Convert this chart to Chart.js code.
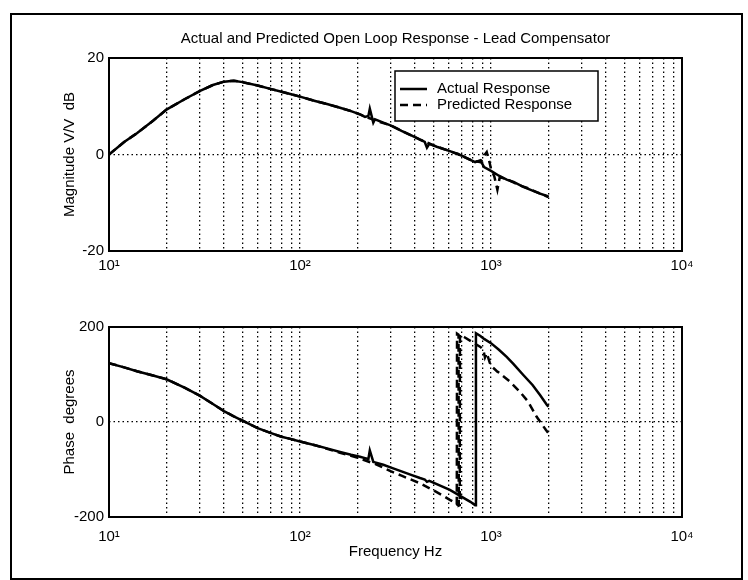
<!DOCTYPE html>
<html>
<head>
<meta charset="utf-8">
<script src="https://cdn.jsdelivr.net/npm/chart.js@4.4.1/dist/chart.umd.min.js"></script>
<style>
  body { margin: 0; background: #fff; }
  #frame { position: absolute; left: 10px; top: 13px; width: 729px; height: 563px; border: 2px solid #000; }
  canvas { position: absolute; left: 0; }
</style>
</head>
<body>
<div id="frame"></div>
<canvas id="magChart" width="748" height="290" style="top:0"></canvas>
<canvas id="phaseChart" width="748" height="290" style="top:290px"></canvas>
<script>
// measured response
const freqActual = [10, 12, 14, 17, 20, 25, 30, 35, 40, 45, 50, 60, 70, 80, 90, 100, 120, 140, 162, 185,
  206, 219, 228, 232, 242, 247, 273, 300, 340, 385, 425, 450, 462, 475, 520, 609, 700, 780, 826, 834,
  880, 920, 1000, 1100, 1208, 1313, 1476, 1650, 1806, 1963, 2000];
const magActual = [0, 2.6, 4.4, 7.0, 9.3, 11.5, 13.2, 14.4, 15.1, 15.3, 15.0, 14.3, 13.6, 13.0, 12.5, 12.0, 11.1, 10.4, 9.7, 9.0,
  8.3, 7.8, 8.0, 9.5, 6.6, 7.3, 6.6, 6.0, 4.9, 3.9, 3.1, 2.6, 1.4, 2.2, 1.6, 0.7, -0.2, -1.1, -1.6, -1.6,
  -1.2, -2.6, -3.4, -4.4, -5.2, -5.7, -6.7, -7.5, -8.1, -8.6, -8.8];
const phaseActual = [124, 115, 107, 98, 90, 72, 55, 38, 23, 12, 3, -13, -23, -31, -36, -41, -49, -56, -63, -69,
  -73, -76, -78, -60, -84, -85, -90, -96, -104, -112, -118, -121, -126, -124, -131, -143, -157, -168, -175, 187,
  181, 175, 166, 152, 137, 122, 99, 78, 57, 36, 32];

// model prediction
const freqPredicted = [10, 12, 14, 17, 20, 25, 30, 35, 40, 45, 50, 60, 70, 80, 90, 100, 120, 140, 162, 185,
  206, 250, 300, 340, 385, 425, 500, 560, 609, 650, 662, 664, 676, 678, 686, 688, 730, 800, 880, 912,
  930, 950, 985, 1000, 1040, 1080, 1110, 1137, 1256, 1413, 1563, 1734, 1940, 2000];
const magPredicted = [0, 2.6, 4.4, 7.0, 9.3, 11.5, 13.2, 14.4, 15.1, 15.3, 15.0, 14.3, 13.6, 13.0, 12.5, 12.0, 11.1, 10.4, 9.7, 9.0,
  8.3, 7.0, 6.0, 4.9, 3.9, 3.1, 1.9, 1.2, 0.7, 0.3, 0.2, 0.2, 0.1, 0.0, 0.0, -0.1, -0.6, -1.3, -1.6, -0.7,
  0.0, 0.5, -1.8, -3.0, -4.5, -7.3, -4.8, -4.8, -5.4, -6.4, -7.0, -7.8, -8.6, -8.8];
const phasePredicted = [124, 115, 107, 98, 90, 72, 55, 38, 23, 12, 3, -13, -23, -31, -36, -41, -49, -57, -65, -71,
  -77, -89, -104, -113, -122, -129, -144, -155, -164, -170, -173, 186, 184, -176, -175, 184, 178, 168, 158, 152,
  136, 145, 125, 118, 112, 106, 103, 99, 85, 64, 43, 11, -17, -24];

const seriesNames = ['Actual Response', 'Predicted Response'];
const chartTitle = 'Actual and Predicted Open Loop Response - Lead Compensator';
const xTickValues = [10, 20, 30, 40, 50, 60, 70, 80, 90, 100, 200, 300, 400, 500, 600, 700, 800, 900,
  1000, 2000, 3000, 4000, 5000, 6000, 7000, 8000, 9000, 10000];
const xTickLabels = { 10: '10\u00b9', 100: '10\u00b2', 1000: '10\u00b3', 10000: '10\u2074' };
const magTicks = [-20, 0, 20];
const phaseTicks = [-200, 0, 200];

const FONT = "'Liberation Sans', Arial, sans-serif";
Chart.defaults.font.family = FONT;
Chart.defaults.font.size = 15;
Chart.defaults.color = '#000';
Chart.defaults.animation = false;

function points(xs, ys) {
  return xs.map((x, i) => ({ x: x, y: ys[i] }));
}

// solid box round the plot area, like the matlab axes
const boxPlugin = {
  id: 'box',
  afterDraw(chart) {
    const a = chart.chartArea;
    const ctx = chart.ctx;
    ctx.save();
    ctx.strokeStyle = '#000';
    ctx.lineWidth = 2;
    ctx.strokeRect(a.left, a.top, a.right - a.left, a.bottom - a.top);
    ctx.restore();
  }
};

// title centred over the axes (chart.js centres on the whole canvas)
const axesTitle = {
  id: 'axesTitle',
  afterDraw(chart) {
    const text = chart.options.plugins.axesTitle;
    if (!text) return;
    const a = chart.chartArea;
    const ctx = chart.ctx;
    ctx.save();
    ctx.font = '15px ' + FONT;
    ctx.fillStyle = '#000';
    ctx.textAlign = 'center';
    ctx.textBaseline = 'middle';
    ctx.fillText(text, (a.left + a.right) / 2, 39);
    ctx.restore();
  }
};

// legend drawn inside the magnitude axes
const innerLegend = {
  id: 'innerLegend',
  afterDraw(chart) {
    if (!chart.options.plugins.innerLegend) return;
    const ctx = chart.ctx;
    const x = 395, y = 71, w = 203, h = 50;
    ctx.save();
    ctx.fillStyle = '#fff';
    ctx.fillRect(x, y, w, h);
    ctx.strokeStyle = '#000';
    ctx.lineWidth = 1.5;
    ctx.strokeRect(x, y, w, h);
    ctx.font = '15px ' + FONT;
    ctx.textBaseline = 'middle';
    ctx.fillStyle = '#000';
    chart.data.datasets.forEach((ds, i) => {
      const ly = y + 18 + i * 16;
      ctx.lineWidth = 2.5;
      ctx.setLineDash(ds.borderDash || []);
      ctx.beginPath();
      ctx.moveTo(x + 5, ly);
      ctx.lineTo(x + 32, ly);
      ctx.stroke();
      ctx.setLineDash([]);
      ctx.fillText(ds.label, x + 42, ly);
    });
    ctx.restore();
  }
};

function makeChart(id, yActual, yPred, freqA, freqP, yTicks, yTitle, cfg) {
  return new Chart(document.getElementById(id), {
    type: 'line',
    data: {
      datasets: [{
        label: seriesNames[0],
        data: points(freqA, yActual),
        borderColor: '#000',
        borderWidth: 2.5,
        pointRadius: 0,
        tension: 0
      }, {
        label: seriesNames[1],
        data: points(freqP, yPred),
        borderColor: '#000',
        borderWidth: 2.5,
        borderDash: [8, 5],
        pointRadius: 0,
        tension: 0
      }]
    },
    options: {
      responsive: false,
      layout: { padding: { left: 0, right: 66, top: cfg.padTop, bottom: 0 } },
      plugins: {
        legend: { display: false },
        tooltip: { enabled: false },
        title: { display: false },
        axesTitle: cfg.title,
        innerLegend: cfg.legend
      },
      scales: {
        x: {
          type: 'logarithmic',
          min: 10,
          max: 10000,
          afterBuildTicks: s => { s.ticks = xTickValues.map(v => ({ value: v })); },
          afterFit: s => { s.height = cfg.xHeight; },
          ticks: {
            autoSkip: false,
            maxRotation: 0,
            padding: cfg.xPad,
            callback: v => xTickLabels[v] || ''
          },
          grid: { color: '#000', lineWidth: 1.3, drawTicks: false },
          border: { display: false, dash: [1.5, 3] },
          title: cfg.xTitle
        },
        y: {
          min: yTicks[0],
          max: yTicks[yTicks.length - 1],
          afterBuildTicks: s => { s.ticks = yTicks.map(v => ({ value: v })); },
          afterFit: s => { s.width = 109; },
          ticks: { padding: 5, callback: v => String(v) },
          grid: { color: '#000', lineWidth: 1.3, drawTicks: false },
          border: { display: false, dash: [1.5, 3] },
          title: { display: true, text: yTitle, padding: { top: 61, bottom: 0 } }
        }
      }
    },
    plugins: [boxPlugin, axesTitle, innerLegend]
  });
}

makeChart('magChart', magActual, magPredicted, freqActual, freqPredicted, magTicks, 'Magnitude V/V  dB', {
  padTop: 58,
  xHeight: 39,
  xPad: 6,
  title: chartTitle,
  xTitle: { display: false },
  legend: true
});

makeChart('phaseChart', phaseActual, phasePredicted, freqActual, freqPredicted, phaseTicks, 'Phase  degrees', {
  padTop: 37,
  xHeight: 63,
  xPad: 11,
  title: null,
  xTitle: { display: true, text: 'Frequency Hz', padding: { top: 0, bottom: 19 } },
  legend: false
});
</script>
</body>
</html>
